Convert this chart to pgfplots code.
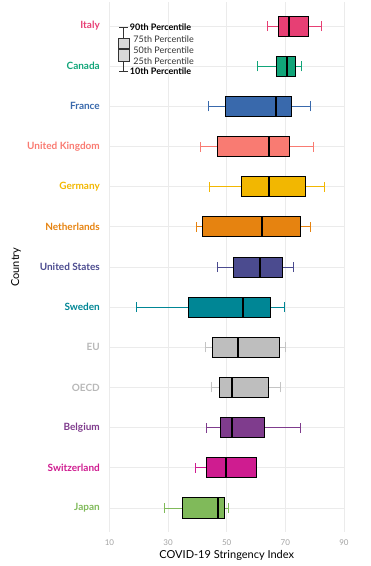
\documentclass[border=0pt]{standalone}
\usepackage{fontspec}
\setmainfont{Lato}
\usepackage{pgfplots}
\usepgfplotslibrary{statistics}
\pgfplotsset{compat=1.18}
\definecolor{cItaly}{HTML}{E73F74}
\definecolor{cCanada}{HTML}{11A579}
\definecolor{cFrance}{HTML}{3969AC}
\definecolor{cUK}{HTML}{F97B72}
\definecolor{cGermany}{HTML}{F2B701}
\definecolor{cNeth}{HTML}{E68310}
\definecolor{cUS}{HTML}{4B4B8F}
\definecolor{cSweden}{HTML}{008695}
\definecolor{cGreyFill}{HTML}{BEBEBE}
\definecolor{cGreyLine}{HTML}{C4C4C4}
\definecolor{cGreyText}{HTML}{B8B8B8}
\definecolor{cBelgium}{HTML}{7F3C8D}
\definecolor{cSwiss}{HTML}{CF1C90}
\definecolor{cJapan}{HTML}{80BA5A}
\definecolor{cGrid}{HTML}{EBEBEB}
\definecolor{cTick}{HTML}{A3A3A3}
\pgfplotsset{
  cbox/.style 2 args={
    boxplot/every box/.style={draw=black, fill=#1, line width=0.8pt},
    boxplot/every whisker/.style={draw=#2, line width=0.7pt},
    boxplot/every median/.style={draw=black, line width=2pt},
  },
}
\begin{document}
\begin{tikzpicture}
\path[use as bounding box] (-109.5pt,-34pt) rectangle (261.5pt,532pt);
\begin{axis}[
  at={(0,0)}, anchor=south west,
  scale only axis, width=234.5pt, height=530pt,
  xmin=10, xmax=90, ymin=0.4, ymax=13.6,
  axis line style={draw=none},
  major tick length=0pt,
  grid=major,
  major grid style={draw=cGrid, line width=0.7pt},
  xtick={10,30,50,70,90},
  ytick={1,2,3,4,5,6,7,8,9,10,11,12,13},
  yticklabels={
    {\textcolor{cJapan}{Japan}},
    {\textcolor{cSwiss}{Switzerland}},
    {\textcolor{cBelgium}{Belgium}},
    {\textcolor{cGreyText}{OECD}},
    {\textcolor{cGreyText}{EU}},
    {\textcolor{cSweden}{Sweden}},
    {\textcolor{cUS}{United States}},
    {\textcolor{cNeth}{Netherlands}},
    {\textcolor{cGermany}{Germany}},
    {\textcolor{cUK}{United Kingdom}},
    {\textcolor{cFrance}{France}},
    {\textcolor{cCanada}{Canada}},
    {\textcolor{cItaly}{Italy}}},
  yticklabel style={font=\bfseries\fontsize{10}{12}\selectfont, inner sep=0pt, anchor=east, xshift=-9.5pt},
  xticklabel style={font=\fontsize{8}{9}\selectfont, text=cTick, inner sep=0pt, anchor=north, yshift=-7.5pt},
  /pgf/number format/assume math mode=true,
  xlabel={COVID-19 Stringency Index},
  xlabel style={font=\fontsize{11}{13}\selectfont, at={(axis description cs:0.5,0)}, anchor=base, yshift=-26pt},
  ylabel={Country},
  ylabel style={font=\fontsize{11}{13}\selectfont, at={([xshift=-93.5pt]axis description cs:0,0.5)}, anchor=center, rotate=0},
  boxplot/box extend=0.5,
  boxplot/whisker extend=0.25,
]
% Japan
\addplot[cbox={cJapan}{cJapan}, boxplot prepared={lower whisker=28.6, lower quartile=35.0, median=47.1, upper quartile=49.1, upper whisker=50.4, draw position=1}] coordinates {};
% Switzerland
\addplot[cbox={cSwiss}{cSwiss}, boxplot prepared={lower whisker=39.2, lower quartile=43.1, median=49.9, upper quartile=60.2, upper whisker=60.2, draw position=2}] coordinates {};
% Belgium
\addplot[cbox={cBelgium}{cBelgium}, boxplot prepared={lower whisker=43.2, lower quartile=48.0, median=51.7, upper quartile=63.0, upper whisker=75.0, draw position=3}] coordinates {};
% OECD
\addplot[cbox={cGreyFill}{cGreyLine}, boxplot prepared={lower whisker=44.9, lower quartile=47.6, median=51.8, upper quartile=64.1, upper whisker=68.3, draw position=4}] coordinates {};
% EU
\addplot[cbox={cGreyFill}{cGreyLine}, boxplot prepared={lower whisker=42.7, lower quartile=45.0, median=53.9, upper quartile=67.9, upper whisker=70.0, draw position=5}] coordinates {};
% Sweden
\addplot[cbox={cSweden}{cSweden}, boxplot prepared={lower whisker=19.3, lower quartile=36.9, median=55.6, upper quartile=64.8, upper whisker=69.5, draw position=6}] coordinates {};
% United States
\addplot[cbox={cUS}{cUS}, boxplot prepared={lower whisker=46.7, lower quartile=52.2, median=61.5, upper quartile=68.9, upper whisker=72.6, draw position=7}] coordinates {};
% Netherlands
\addplot[cbox={cNeth}{cNeth}, boxplot prepared={lower whisker=39.7, lower quartile=41.6, median=62.1, upper quartile=75.0, upper whisker=78.6, draw position=8}] coordinates {};
% Germany
\addplot[cbox={cGermany}{cGermany}, boxplot prepared={lower whisker=44.0, lower quartile=55.0, median=64.3, upper quartile=76.8, upper whisker=83.3, draw position=9}] coordinates {};
% United Kingdom
\addplot[cbox={cUK}{cUK}, boxplot prepared={lower whisker=41.1, lower quartile=46.7, median=64.4, upper quartile=71.3, upper whisker=79.7, draw position=10}] coordinates {};
% France
\addplot[cbox={cFrance}{cFrance}, boxplot prepared={lower whisker=43.8, lower quartile=49.5, median=66.7, upper quartile=72.2, upper whisker=78.6, draw position=11}] coordinates {};
% Canada
\addplot[cbox={cCanada}{cCanada}, boxplot prepared={lower whisker=60.6, lower quartile=67.1, median=70.7, upper quartile=73.5, upper whisker=75.4, draw position=12}] coordinates {};
% Italy
\addplot[cbox={cItaly}{cItaly}, boxplot prepared={lower whisker=63.8, lower quartile=67.5, median=71.3, upper quartile=78.0, upper whisker=82.4, draw position=13}] coordinates {};
% legend key (vertical)
\addplot[boxplot/draw direction=y,
  boxplot/every box/.style={draw=black!80, fill=black!15, line width=0.8pt},
  boxplot/every whisker/.style={draw=black!80, line width=1pt},
  boxplot/every median/.style={draw=black!80, line width=1.4pt},
  boxplot prepared={lower whisker=11.875, lower quartile=12.13, median=12.43, upper quartile=12.70, upper whisker=12.975, draw position=14.9, box extend=3.6, whisker extend=3}] coordinates {};
\node[anchor=west, inner sep=0pt, font=\bfseries\fontsize{9}{10}\selectfont] at (axis cs:16.9,12.975) {90th Percentile};
\node[anchor=west, inner sep=0pt, font=\fontsize{9}{10}\selectfont, text=black!80] at (axis cs:18.1,12.684) {75th Percentile};
\node[anchor=west, inner sep=0pt, font=\fontsize{9}{10}\selectfont, text=black!80] at (axis cs:18.1,12.41) {50th Percentile};
\node[anchor=west, inner sep=0pt, font=\fontsize{9}{10}\selectfont, text=black!80] at (axis cs:18.1,12.136) {25th Percentile};
\node[anchor=west, inner sep=0pt, font=\bfseries\fontsize{9}{10}\selectfont] at (axis cs:16.9,11.875) {10th Percentile};
\end{axis}
\end{tikzpicture}
\end{document}
